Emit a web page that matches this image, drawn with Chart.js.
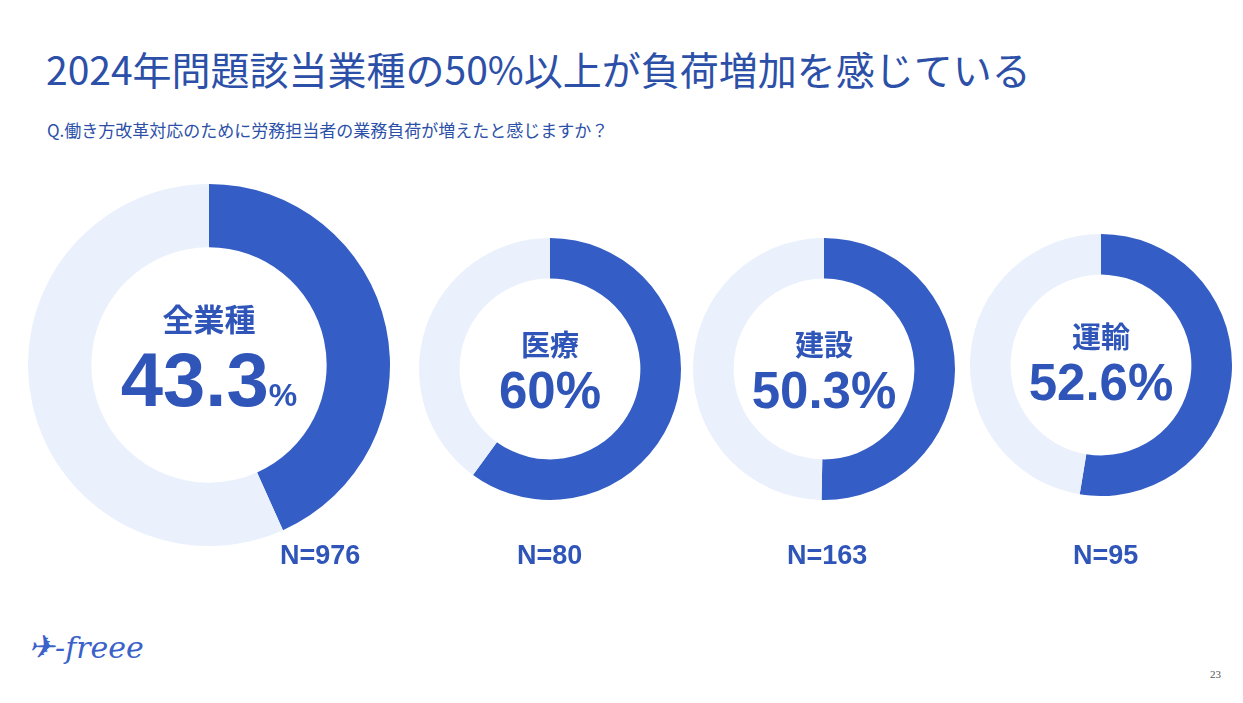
<!DOCTYPE html>
<html><head><meta charset="utf-8">
<script src="https://cdn.jsdelivr.net/npm/chart.js@4"></script>
<style>
body{margin:0;width:1243px;height:703px;background:#fff;font-family:"Noto Sans CJK JP","Noto Sans",sans-serif;position:relative;overflow:hidden}
.abs{position:absolute}
h1{position:absolute;left:46px;top:40px;margin:0;font-size:39px;font-weight:400;color:#2c50a8;white-space:nowrap}
.sub{left:47px;top:117px;font-size:17px;color:#2c50a8;white-space:nowrap}
.lbl{text-align:center;color:#2f55b8;font-weight:700;font-family:"Liberation Sans","Noto Sans CJK JP",sans-serif}
.n{font-size:27px;font-weight:700;color:#2f55b8;font-family:"Liberation Sans",sans-serif}
</style></head><body>
<h1>2024年問題該当業種の50%以上が負荷増加を感じている</h1>
<div class="abs sub">Q.働き方改革対応のために労務担当者の業務負荷が増えたと感じますか？</div>
<div id="wrap"></div>
<div class="abs n" style="left:280px;top:540px">N=976</div>
<div class="abs n" style="left:517px;top:540px">N=80</div>
<div class="abs n" style="left:787px;top:540px">N=163</div>
<div class="abs n" style="left:1073px;top:540px">N=95</div>
<div class="abs" style="left:28px;top:628px;font-size:32px;font-style:italic;color:#3a62c8;font-family:'DejaVu Serif',serif">✈<span style="font-size:30px">-freee</span></div>
<div class="abs" style="left:1210px;top:668px;font-size:11px;color:#555;font-family:'Liberation Serif',serif">23</div>
<script>
let names = ["全業種", "医療", "建設", "運輸"];
let values = [43.3, 60, 50.3, 52.6];
let valueLabels = ["43.3", "60%", "50.3%", "52.6%"];
let counts = [976, 80, 163, 95];

let centers = [[209, 365], [550, 369], [824, 369], [1101, 365]];
let radii = [181, 131, 131, 131];
let cutouts = ["65%", "69%", "69%", "69%"];

let wrap = document.getElementById("wrap");
for (let i = 0; i < names.length; i++) {
    let r = radii[i];
    let box = document.createElement("div");
    box.className = "abs";
    box.style.left = (centers[i][0] - r) + "px";
    box.style.top = (centers[i][1] - r) + "px";
    box.style.width = (2 * r) + "px";
    box.style.height = (2 * r) + "px";
    let c = document.createElement("canvas");
    box.appendChild(c);
    wrap.appendChild(box);
    new Chart(c, {
        type: "doughnut",
        data: {
            labels: ["増えた", "その他"],
            datasets: [{
                data: [values[i], 100 - values[i]],
                backgroundColor: ["#345ec6", "#eaf1fc"],
                borderWidth: 0
            }]
        },
        options: {
            responsive: true,
            maintainAspectRatio: false,
            animation: false,
            cutout: cutouts[i],
            plugins: { legend: { display: false }, tooltip: { enabled: false } }
        }
    });

    let lbl = document.createElement("div");
    lbl.className = "abs lbl";
    lbl.style.width = "260px";
    if (i === 0) {
        lbl.style.left = (centers[i][0] - 130) + "px";
        lbl.style.top = (centers[i][1] - 70) + "px";
        lbl.innerHTML = '<div style="font-size:31px;font-family:Noto Sans CJK JP">' + names[i] + '</div>' +
            '<div style="font-size:76px;line-height:80px;margin-left:0px">' + valueLabels[i] + '<span style="font-size:32px">%</span></div>';
    } else {
        lbl.style.left = (centers[i][0] - 130) + "px";
        lbl.style.top = (centers[i][1] - 47 - (i === 3 ? 4 : 0)) + "px";
        lbl.innerHTML = '<div style="font-size:29px;font-family:Noto Sans CJK JP">' + names[i] + '</div>' +
            '<div style="font-size:51px;line-height:54px">' + valueLabels[i] + '</div>';
    }
    wrap.appendChild(lbl);
}
</script>
</body></html>
